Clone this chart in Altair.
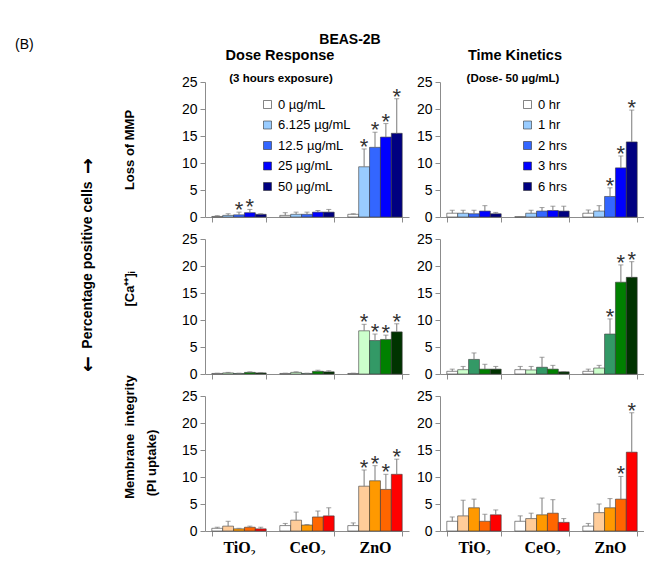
import altair as alt
import pandas as pd

# ---------------- data ----------------
materials = ["TiO₂", "CeO₂", "ZnO"]
dose_labels = ["0 µg/mL", "6.125 µg/mL", "12.5 µg/mL", "25 µg/mL", "50 µg/mL"]
time_labels = ["0 hr", "1 hr", "2 hrs", "3 hrs", "6 hrs"]

blues = ["#ffffff", "#99ccff", "#3366ff", "#0000ff", "#000080"]
greens = ["#ffffff", "#ccffcc", "#339966", "#008000", "#003300"]
oranges = ["#ffffff", "#ffcc99", "#ff9900", "#ff6600", "#ff0000"]

# Loss of MMP - dose response (rows: TiO2, CeO2, ZnO)
mmp_dose_mean = [[0.1, 0.3, 0.4, 0.8, 0.5], [0.3, 0.5, 0.5, 0.9, 0.9], [0.5, 9.3, 12.9, 14.8, 15.5]]
mmp_dose_err = [[0.15, 0.3, 0.5, 0.6, 0.1], [0.5, 0.4, 0.4, 0.3, 0.5], [0.1, 3.3, 2.8, 2.5, 6.4]]
mmp_dose_sig = [[0, 0, 1, 1, 0], [0, 0, 0, 0, 0], [0, 1, 1, 1, 1]]

# Loss of MMP - time kinetics
mmp_time_mean = [[0.7, 0.7, 0.6, 1.1, 0.6], [0.05, 0.7, 1.1, 1.2, 1.1], [0.7, 1.1, 3.8, 9.1, 13.9]]
mmp_time_err = [[0.55, 0.55, 0.65, 1.0, 0.25], [0.0, 0.55, 0.65, 0.8, 0.9], [0.6, 1.0, 1.6, 2.2, 5.9]]
mmp_time_sig = [[0, 0, 0, 0, 0], [0, 0, 0, 0, 0], [0, 0, 1, 1, 1]]

# [Ca++]i - dose response
ca_dose_mean = [[0.1, 0.2, 0.1, 0.3, 0.2], [0.1, 0.3, 0.1, 0.5, 0.4], [0.1, 8.0, 6.2, 6.4, 7.8]]
ca_dose_err = [[0.05, 0.1, 0.05, 0.1, 0.05], [0.05, 0.1, 0.05, 0.2, 0.2], [0.05, 1.2, 1.2, 0.8, 1.5]]
ca_dose_sig = [[0, 0, 0, 0, 0], [0, 0, 0, 0, 0], [0, 1, 1, 1, 1]]

# [Ca++]i - time kinetics
ca_time_mean = [[0.5, 0.8, 2.7, 0.9, 0.9], [0.8, 0.75, 1.25, 0.9, 0.4], [0.5, 1.1, 7.4, 17.0, 17.9]]
ca_time_err = [[0.4, 0.6, 1.2, 0.9, 0.5], [0.6, 0.65, 1.85, 0.7, 0.05], [0.4, 0.5, 2.8, 3.2, 2.9]]
ca_time_sig = [[0, 0, 0, 0, 0], [0, 0, 0, 0, 0], [0, 0, 1, 1, 1]]

# Membrane integrity (PI uptake) - dose response
pi_dose_mean = [[0.5, 0.9, 0.4, 0.7, 0.4], [1.0, 2.0, 1.1, 2.6, 2.8], [1.0, 8.3, 9.3, 7.7, 10.5]]
pi_dose_err = [[0.2, 0.9, 0.1, 0.2, 0.3], [0.4, 1.5, 0.1, 1.1, 1.5], [0.5, 3.0, 2.8, 2.8, 2.8]]
pi_dose_sig = [[0, 0, 0, 0, 0], [0, 0, 0, 0, 0], [0, 1, 1, 1, 1]]

# Membrane integrity (PI uptake) - time kinetics
pi_time_mean = [[1.8, 2.8, 4.3, 1.8, 3.0], [1.8, 2.3, 3.0, 3.3, 1.6], [0.9, 3.4, 4.3, 5.9, 14.6]]
pi_time_err = [[0.8, 2.9, 1.6, 1.3, 0.9], [1.0, 1.0, 3.1, 2.5, 0.7], [0.5, 1.6, 1.7, 4.2, 7.3]]
pi_time_sig = [[0, 0, 0, 0, 0], [0, 0, 0, 0, 0], [0, 0, 0, 1, 1]]

y_ticks = [0, 5, 10, 15, 20, 25]

# ---------------- styling ----------------
FONT = "Liberation Sans"
SERIF = "Liberation Serif"
W, H = 204, 135
AXIS_GRAY = "#8c8c8c"
ERR_GRAY = "#7a7a7a"


def panel_df(mean, err, sig, series):
    rows = []
    for i, m in enumerate(materials):
        for j, s in enumerate(series):
            rows.append({
                "material": m,
                "series": s,
                "value": mean[i][j],
                "top": mean[i][j] + err[i][j],
                "sig": bool(sig[i][j]),
            })
    return pd.DataFrame(rows)


def label(text, x, y, size, weight="bold", angle=0, align="center", font=FONT):
    return alt.Chart(pd.DataFrame({"t": [text]})).mark_text(
        fontSize=size, fontWeight=weight, angle=angle, align=align,
        baseline="middle", font=font, color="black"
    ).encode(text="t:N", x=alt.value(x), y=alt.value(y))


def panel(mean, err, sig, series, colors, legend_x=None, bottom=False, extra=()):
    df = panel_df(mean, err, sig, series)
    base = alt.Chart(df)
    x_axis = alt.Axis(
        title=None, labels=bottom, tickBand="extent", ticks=True, tickSize=5,
        domainColor=AXIS_GRAY, tickColor=AXIS_GRAY, labelAngle=0,
        labelFont=SERIF, labelFontWeight="bold", labelFontSize=16,
        labelPadding=3, labelColor="black",
    )
    x = alt.X("material:N", sort=materials, axis=x_axis,
              scale=alt.Scale(paddingInner=0.2, paddingOuter=0.1))
    xo = alt.XOffset("series:N", sort=series,
                     scale=alt.Scale(domain=series, paddingInner=0, paddingOuter=0))
    y_axis = alt.Axis(
        title=None, values=y_ticks, tickSize=5, domainColor=AXIS_GRAY,
        tickColor=AXIS_GRAY, labelFont=FONT, labelFontSize=14,
        labelColor="black", labelPadding=3, grid=False, labelOverlap=False,
    )
    yscale = alt.Scale(domain=[0, 25], nice=False)
    y = alt.Y("value:Q", title=None, axis=y_axis, scale=yscale)
    ytop = alt.Y("top:Q", title=None, axis=y_axis, scale=yscale)
    if legend_x is None:
        legend = None
    else:
        legend = alt.Legend(
            orient="none", legendX=legend_x, legendY=16, title=None,
            symbolType="square", symbolSize=64, symbolStrokeColor="#333333",
            symbolStrokeWidth=0.6, labelFont=FONT, labelFontSize=13,
            labelColor="black", rowPadding=6.5, labelOffset=4, padding=0,
        )
    color = alt.Color("series:N", sort=series,
                      scale=alt.Scale(domain=series, range=colors), legend=legend)

    bars = base.mark_bar(stroke="#3a3a3a", strokeWidth=0.6).encode(
        x=x, xOffset=xo, y=y, color=color)
    errs = base.mark_rule(color=ERR_GRAY, strokeWidth=1).encode(
        x=x, xOffset=xo, y=y, y2=alt.Y2("top:Q"))
    caps = base.mark_tick(color=ERR_GRAY, thickness=1, size=5).encode(
        x=x, xOffset=xo, y=ytop)
    stars = base.transform_filter("datum.sig").mark_text(
        text="*", fontSize=22, font=FONT, baseline="alphabetic", dy=5, color="#333333"
    ).encode(x=x, xOffset=xo, y=ytop)
    return alt.layer(bars, errs, caps, stars, *extra).properties(width=W, height=H)


# outer texts, positioned relative to the top-left panel
texts = [
    label("(B)", -190, -37, 14, weight="normal", align="left"),
    label("BEAS-2B", 145, -42, 14),
    label("Dose Response", 75, -26, 14.5),
    label("(3 hours exposure)", 76, -3, 11.5),
    label("Time Kinetics", 310, -26, 14.5),
    label("(Dose- 50 µg/mL)", 308, -3, 11.5),
    label("→", -117, 84, 19, angle=270, font="DejaVu Sans"),
    label("Percentage positive cells", -117, 183, 14, angle=270),
    label("←", -117, 282, 19, angle=270, font="DejaVu Sans"),
    label("Loss of MMP", -75, 68, 13, angle=270),
    label("[Ca⁺⁺]ᵢ", -75, 207, 13, angle=270),
    label("Membrane\u00a0\u00a0integrity", -75, 355, 13, angle=270),
    label("(PI uptake)", -53, 381, 13, angle=270),
]

p1 = panel(mmp_dose_mean, mmp_dose_err, mmp_dose_sig, dose_labels, blues, legend_x=56, extra=texts)
p2 = panel(mmp_time_mean, mmp_time_err, mmp_time_sig, time_labels, blues, legend_x=81)
p3 = panel(ca_dose_mean, ca_dose_err, ca_dose_sig, dose_labels, greens)
p4 = panel(ca_time_mean, ca_time_err, ca_time_sig, time_labels, greens)
p5 = panel(pi_dose_mean, pi_dose_err, pi_dose_sig, dose_labels, oranges, bottom=True)
p6 = panel(pi_time_mean, pi_time_err, pi_time_sig, time_labels, oranges, bottom=True)

chart = alt.concat(
    p1, p2, p3, p4, p5, p6, columns=2,
    spacing=alt.RowColnumber(row=22, column=31), bounds="flush",
).resolve_scale(color="independent", x="independent", xOffset="independent", y="independent").properties(
    padding={"left": 7, "top": 25, "right": 0, "bottom": 0}
).configure_view(stroke=None).configure_axis(grid=False)

chart.save("out.html", embed_options={"renderer": "svg", "actions": False})
